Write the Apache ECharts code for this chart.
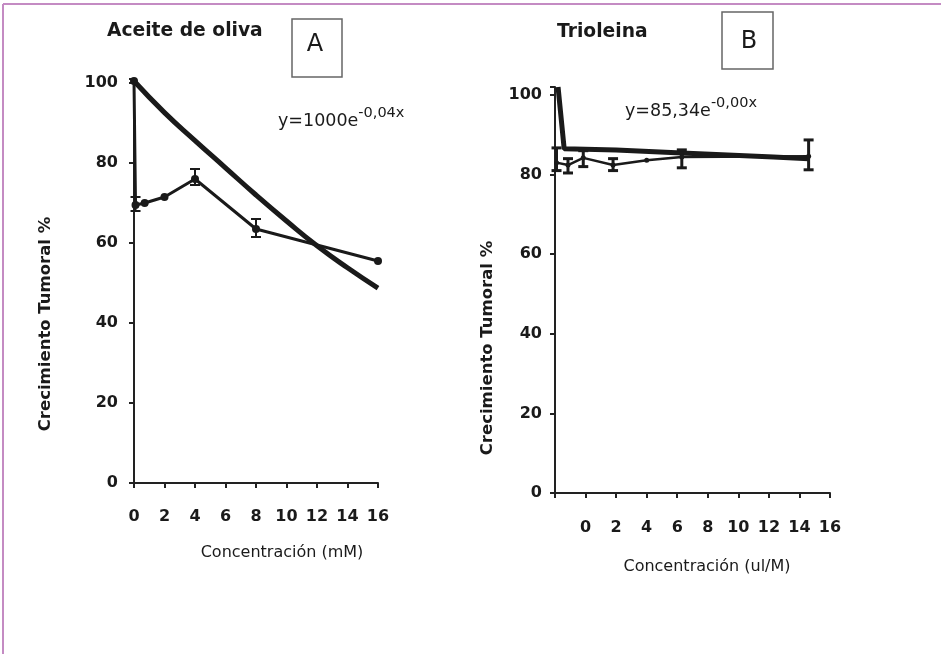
<!DOCTYPE html>
<html><head><meta charset="utf-8">
<script src="https://cdn.jsdelivr.net/npm/echarts@6/dist/echarts.min.js"></script>
<style>html,body{margin:0;padding:0;background:#fff}#c{width:941px;height:654px}</style>
</head><body><div id="c"></div>
<script>
// ---- Panel A: Aceite de oliva ----
const fitAX = [0, 2, 4, 6, 8, 10, 12, 14, 16];
const fitAY = [100.5, 92.6, 85.6, 78.8, 72, 65.5, 59.3, 53.8, 48.7];
const dataAX = [0, 0.1, 0.7, 2, 4, 8, 16];
const dataAY = [100.5, 69.5, 70, 71.5, 76, 63.5, 55.5];
const errAX = [0.1, 4, 8];
const errALow = [68, 74.5, 61.5];
const errAHigh = [71.5, 78.5, 66];

// ---- Panel B: Trioleina ----
const fitBX = [-1.8, -1.4, 2, 6.3, 12.3, 14.6];
const fitBY = [102, 86.5, 86.2, 85.4, 84.4, 84];
const dataBX = [-1.9, -1.15, -0.15, 1.8, 4.0, 6.3, 14.6];
const dataBY = [83, 82.4, 84.2, 82.4, 83.6, 84.4, 84.6];
const errBX = [-1.9, -1.15, -0.15, 1.8, 6.3, 14.6];
const errBLow = [81, 80.4, 82, 81, 81.7, 81.2];
const errBHigh = [86.7, 84, 86, 84, 86.2, 88.7];

const yTicks = [0, 20, 40, 60, 80, 100];
const xTicks = [0, 2, 4, 6, 8, 10, 12, 14, 16];

const pairs = (xs, ys) => xs.map((x, i) => [x, ys[i]]);
const triples = (xs, lo, hi) => xs.map((x, i) => [x, lo[i], hi[i]]);

const FONT = 'DejaVu Sans';
const INK = '#1a1a1a';

function errorBar(xi, yi, data, lw, cap) {
  return {
    type: 'custom', xAxisIndex: xi, yAxisIndex: yi, data: data, z: 5,
    renderItem: function (params, api) {
      const x = api.value(0);
      const lo = api.coord([x, api.value(1)]);
      const hi = api.coord([x, api.value(2)]);
      const s = { stroke: INK, lineWidth: lw };
      return { type: 'group', children: [
        { type: 'line', shape: { x1: lo[0], y1: lo[1], x2: hi[0], y2: hi[1] }, style: s },
        { type: 'line', shape: { x1: lo[0] - cap, y1: lo[1], x2: lo[0] + cap, y2: lo[1] }, style: s },
        { type: 'line', shape: { x1: hi[0] - cap, y1: hi[1], x2: hi[0] + cap, y2: hi[1] }, style: s }
      ]};
    }
  };
}

function yAxis(gi, max, margin) {
  return {
    type: 'value', gridIndex: gi, min: 0, max: max, interval: 20,
    axisLine: { show: true, onZero: false, lineStyle: { color: '#222', width: 2 } },
    axisTick: { show: true, length: 5, lineStyle: { color: '#222', width: 2 } },
    splitLine: { show: false },
    axisLabel: {
      margin: margin, fontFamily: FONT, fontWeight: 'bold', fontSize: 16, color: INK,
      formatter: v => (yTicks.indexOf(v) >= 0 ? String(v) : '')
    }
  };
}
function xAxis(gi, min, margin) {
  return {
    type: 'value', gridIndex: gi, min: min, max: 16, interval: 2,
    axisLine: { show: true, onZero: false, lineStyle: { color: '#222', width: 2 } },
    axisTick: { show: true, length: 5, lineStyle: { color: '#222', width: 2 } },
    splitLine: { show: false },
    axisLabel: {
      margin: margin, fontFamily: FONT, fontWeight: 'bold', fontSize: 16, color: INK,
      formatter: v => (xTicks.indexOf(v) >= 0 ? String(v) : '')
    }
  };
}

function txt(text, x, y, size, weight, align, rot) {
  return {
    type: 'text', x: x, y: y, rotation: rot || 0,
    style: { text: text, x: 0, y: 0, fill: INK, font: (weight || 'normal') + ' ' + size + 'px "' + FONT + '"',
      textAlign: align || 'left', textVerticalAlign: 'middle', verticalAlign: 'middle' }
  };
}
function eq(main, sup, x, y) {
  return {
    type: 'text', x: x, y: y,
    style: {
      text: '{m|' + main + '}{s|' + sup + '}', x: 0, y: 0, textVerticalAlign: 'middle', verticalAlign: 'middle',
      rich: {
        m: { fontFamily: FONT, fontSize: 17.5, fill: INK, color: INK, padding: [7, 0, 0, 0], verticalAlign: 'bottom' },
        s: { fontFamily: FONT, fontSize: 14.5, fill: INK, color: INK, verticalAlign: 'top' }
      }
    }
  };
}

const chart = echarts.init(document.getElementById('c'));
chart.setOption({
  animation: false,
  backgroundColor: '#fff',
  grid: [
    { left: 134, top: 79, width: 244, height: 404 },
    { left: 555, top: 87, width: 275, height: 406 }
  ],
  xAxis: [xAxis(0, 0, 26), xAxis(1, -2, 27)],
  yAxis: [yAxis(0, 101, 16), yAxis(1, 102, 13)],
  series: [
    { type: 'line', xAxisIndex: 0, yAxisIndex: 0, data: pairs(fitAX, fitAY), smooth: true,
      symbol: 'none', lineStyle: { color: INK, width: 5 }, z: 3 },
    { type: 'line', xAxisIndex: 0, yAxisIndex: 0, data: pairs(dataAX, dataAY),
      symbol: 'circle', symbolSize: 8, itemStyle: { color: INK }, lineStyle: { color: INK, width: 3 }, z: 4 },
    errorBar(0, 0, triples(errAX, errALow, errAHigh), 2, 5),
    { type: 'line', xAxisIndex: 1, yAxisIndex: 1, data: pairs(fitBX, fitBY),
      symbol: 'none', lineStyle: { color: INK, width: 5 }, z: 3 },
    { type: 'line', xAxisIndex: 1, yAxisIndex: 1, data: pairs(dataBX, dataBY),
      symbol: 'circle', symbolSize: 5, itemStyle: { color: INK }, lineStyle: { color: INK, width: 2.5 }, z: 4 },
    errorBar(1, 1, triples(errBX, errBLow, errBHigh), 3, 5)
  ],
  graphic: [
    { type: 'line', shape: { x1: 3, y1: 4, x2: 941, y2: 4 }, style: { stroke: '#c48bc3', lineWidth: 2 } },
    { type: 'line', shape: { x1: 3, y1: 4, x2: 3, y2: 654 }, style: { stroke: '#c48bc3', lineWidth: 2 } },
    { type: 'rect', shape: { x: 292, y: 19, width: 50, height: 58 }, style: { fill: '#fff', stroke: '#666', lineWidth: 1.5 } },
    { type: 'rect', shape: { x: 722, y: 12, width: 51, height: 57 }, style: { fill: '#fff', stroke: '#666', lineWidth: 1.5 } },
    txt('A', 315, 45, 24, 'normal', 'center'),
    txt('B', 749, 42, 24, 'normal', 'center'),
    txt('Aceite de oliva', 107, 31, 18.7, 'bold', 'left'),
    txt('Trioleina', 557, 32, 18.7, 'bold', 'left'),
    eq('y=1000e', '-0,04x', 278, 118),
    eq('y=85,34e', '-0,00x', 625, 108),
    txt('Concentración (mM)', 282, 553, 16, 'normal', 'center'),
    txt('Concentración (ul/M)', 707, 567, 16, 'normal', 'center'),
    txt('Crecimiento Tumoral %', 46, 324, 16.5, 'bold', 'center', Math.PI / 2),
    txt('Crecimiento Tumoral %', 488, 348, 16.5, 'bold', 'center', Math.PI / 2)
  ]
});
</script>
</body></html>
